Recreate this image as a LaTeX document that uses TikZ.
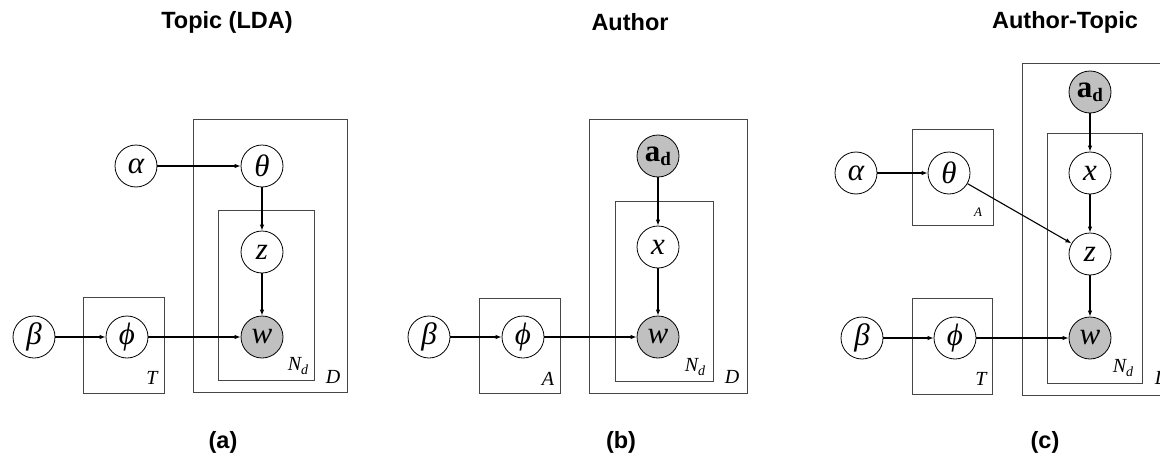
\documentclass[tikz,border=0pt]{standalone}
\usepackage{fontspec}
\setmainfont{Liberation Serif}
\setsansfont{Liberation Sans}
\usetikzlibrary{arrows.meta}
\definecolor{obsgray}{RGB}{192,192,192}
\definecolor{platecol}{RGB}{70,70,70}
\newcommand{\Nd}{\textit{N}\raisebox{-0.35ex}{\fontsize{14}{14}\selectfont\textit{d}}}
\newcommand{\ad}{\textbf{a}\raisebox{-0.3ex}{\fontsize{19}{19}\selectfont\textbf{d}}}
\tikzset{
  var/.style={circle, draw, line width=0.8pt, minimum size=42pt, inner sep=0pt, fill=white, font=\fontsize{31}{33}\selectfont\itshape},
  obs/.style={var, fill=obsgray},
  plate/.style={draw=platecol, line width=0.9pt},
  arr/.style={-{Latex[length=6pt,width=4.5pt]}, line width=1.1pt},
  ttl/.style={font=\fontsize{23.5}{27}\selectfont\bfseries\sffamily},
  plab/.style={font=\fontsize{20}{22}\selectfont\itshape, inner sep=0pt},
  splab/.style={font=\fontsize{13}{15}\selectfont\itshape, inner sep=0pt}
}
\begin{document}
\begin{tikzpicture}[x=1pt,y=-1pt]
\clip (0,0) rectangle (1160,463);
\fill[white] (0,0) rectangle (1160,463);

% ---------- (a) ----------
\node[ttl] (ta) at (227,22) {Topic (LDA)};
\draw[plate] (83,297) rectangle (164,393);
\draw[plate] (193,119) rectangle (347,392);
\draw[plate] (218,210) rectangle (314,380);
\node[plab] (aT) at (152,378) {T};
\node[plab] (aD) at (333,377) {D};
\node[plab] (aN) at (298,366) {\Nd};
\node[var] (aalpha) at (136,166) {α};
\node[var] (atheta) at (262,166) {θ};
\node[var] (az) at (262,252) {z};
\node[obs] (aw) at (262,337) {w};
\node[var] (abeta) at (34,337) {β};
\node[var] (aphi) at (127,337) {ϕ};
\draw[arr] (aalpha) -- (atheta);
\draw[arr] (atheta) -- (az);
\draw[arr] (az) -- (aw);
\draw[arr] (abeta) -- (aphi);
\draw[arr] (aphi) -- (aw);
\node[ttl] (la) at (223,442) {(a)};

% ---------- (b) ----------
\node[ttl] (tb) at (630,22) {Author};
\draw[plate] (479,298) rectangle (560,393);
\draw[plate] (589,119) rectangle (747,393);
\draw[plate] (615,201) rectangle (713,381);
\node[plab] (bA) at (548,379) {A};
\node[plab] (bD) at (732,377) {D};
\node[plab] (bN) at (695,367) {\Nd};
\node[obs] (bad) at (658,156) {\upshape\ad};
\node[var] (bx) at (658,247) {x};
\node[obs] (bw) at (658,337) {w};
\node[var] (bbeta) at (429,337) {β};
\node[var] (bphi) at (523,337) {ϕ};
\draw[arr] (bad) -- (bx);
\draw[arr] (bx) -- (bw);
\draw[arr] (bbeta) -- (bphi);
\draw[arr] (bphi) -- (bw);
\node[ttl] (lb) at (621,442) {(b)};

% ---------- (c) ----------
\node[ttl] (tc) at (1065,22) {Author-Topic};
\draw[plate] (912,129) rectangle (993,225);
\draw[plate] (912,298) rectangle (992,394);
\draw[plate] (1022,63) rectangle (1185,395);
\draw[plate] (1047,133) rectangle (1142,383);
\node[splab] (cA) at (978,212) {A};
\node[plab] (cT) at (981,379) {T};
\node[plab] (cD) at (1162,378) {D};
\node[plab] (cN) at (1123,368) {\Nd};
\node[obs] (cad) at (1090,92) {\upshape\ad};
\node[var] (cx) at (1090,173) {x};
\node[var] (cz) at (1090,254) {z};
\node[obs] (cw) at (1090,338) {w};
\node[var] (calpha) at (856,173) {α};
\node[var] (ctheta) at (949,173) {θ};
\node[var] (cbeta) at (862,338) {β};
\node[var] (cphi) at (955,338) {ϕ};
\draw[arr] (cad) -- (cx);
\draw[arr] (cx) -- (cz);
\draw[arr] (cz) -- (cw);
\draw[arr] (calpha) -- (ctheta);
\draw[arr] (ctheta) -- (cz);
\draw[arr] (cbeta) -- (cphi);
\draw[arr] (cphi) -- (cw);
\node[ttl] (lc) at (1045,442) {(c)};
\end{tikzpicture}
\end{document}
